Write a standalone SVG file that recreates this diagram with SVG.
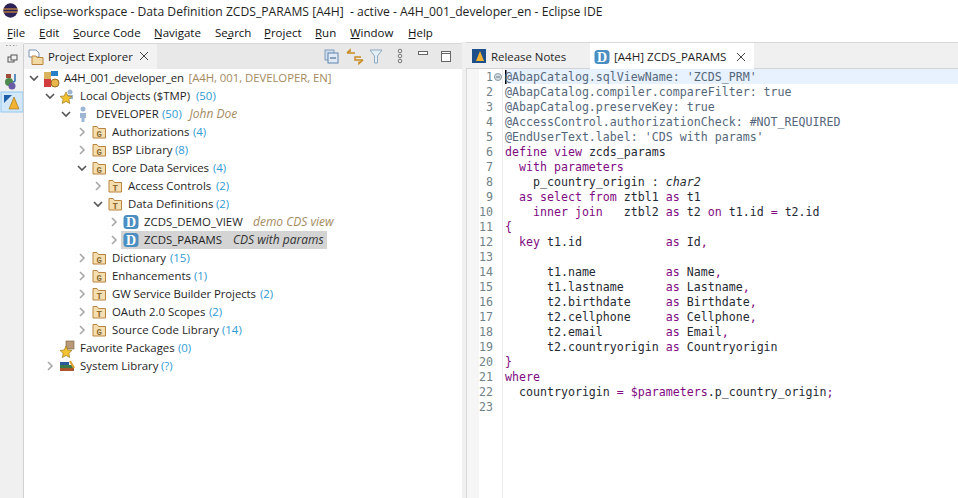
<svg xmlns="http://www.w3.org/2000/svg" width="958" height="498" viewBox="0 0 958 498">
<style>
text{white-space:pre}
.ui{font-family:"Open Sans","Noto Sans","Liberation Sans",sans-serif;font-size:11.4px;fill:#1f1f1f}
.title{font-family:"Open Sans","Noto Sans","Liberation Sans",sans-serif;font-size:12.15px;fill:#1f1f1f}
.menu{font-family:"Open Sans","Noto Sans","Liberation Sans",sans-serif;font-size:11.5px;fill:#111}
.c{fill:#2f9bd3}
.d{fill:#a58a60;font-style:italic;font-size:12px}
.dk{fill:#333;font-style:italic;font-size:12px}
.m{fill:#a58a60}
.code{font-family:"DejaVu Sans Mono","Liberation Mono",monospace;font-size:11.62px;fill:#1f2a33}
.ln{font-family:"DejaVu Sans Mono","Liberation Mono",monospace;font-size:11.62px;fill:#6f8288;text-anchor:end}
.a{fill:#55677a}
.k{fill:#7f0a7f}
.i{font-style:italic}
.chev{fill:none;stroke:#555;stroke-width:1.6}
.chevc{fill:none;stroke:#a8a8a8;stroke-width:1.6}
.fold{fill:#f5deb0;stroke:#b9843f;stroke-width:1}
.fl{font-family:"Liberation Mono",monospace;font-size:9px;font-weight:bold;fill:#8a6a30;text-anchor:middle}
.db{fill:#4a8ec2}
.dl{font-family:"Liberation Serif",serif;font-size:14px;font-weight:bold;fill:#fff;text-anchor:middle}
.ul{stroke:#111;stroke-width:1}
.star{fill:#f2c230;stroke:#9a7a20;stroke-width:.7}
</style>
<defs>
<path id="cd" class="chev" d="M-4,-2 L0,2 L4,-2"/>
<path id="cr" class="chevc" d="M-2,-4 L2,0 L-2,4"/>
<path id="st" class="star" d="M0,-6 L1.800,-2 L6,-1.600 L2.900,1.300 L3.700,5.500 L0,3.400 L-3.700,5.500 L-2.900,1.300 L-6,-1.600 L-1.800,-2Z"/>
<g id="fg"><path class="fold" d="M-6,-5.500 h4 l1.500,2 h7 v9.500 h-12.500 z"/><text class="fl" x="0.300" y="4.500">G</text></g>
<g id="ft"><path class="fold" d="M-6,-5.500 h4 l1.500,2 h7 v9.500 h-12.500 z"/><text class="fl" x="0.300" y="4.500">T</text></g>
<g id="dd"><rect class="db" x="-7.500" y="-7" width="15" height="14" rx="3.500"/><text class="dl" x="0" y="4.800">D</text></g>
</defs>
<rect width="958" height="498" fill="#fff"/>
<g id="titlebar">
<circle cx="10.500" cy="10.500" r="7.200" fill="#2c2255"/><path d="M3.500,9 h14 M3.500,12 h14" stroke="#f2a33a" stroke-width="1.200"/>
<text class="title" x="24" y="16">eclipse-workspace - Data Definition ZCDS_PARAMS [A4H]  - active - A4H_001_developer_en - Eclipse IDE</text>
</g>
<g id="menubar">
<text class="menu" x="7" y="37">File</text><path class="ul" d="M7.500,38.500h5"/>
<text class="menu" x="39" y="37">Edit</text><path class="ul" d="M39.500,38.500h6"/>
<text class="menu" x="73" y="37">Source Code</text><path class="ul" d="M73.500,38.500h6"/>
<text class="menu" x="154" y="37">Navigate</text><path class="ul" d="M154.500,38.500h7"/>
<text class="menu" x="215" y="37">Search</text><path class="ul" d="M227,38.500h5"/>
<text class="menu" x="264" y="37">Project</text><path class="ul" d="M264.500,38.500h6"/>
<text class="menu" x="315" y="37">Run</text><path class="ul" d="M315.500,38.500h6"/>
<text class="menu" x="350" y="37">Window</text><path class="ul" d="M350.500,38.500h9"/>
<text class="menu" x="408" y="37">Help</text><path class="ul" d="M408.500,38.500h7"/>
</g>
<g id="sidebar">
<rect x="0" y="42" width="24" height="456" fill="#f0f0f0"/>
<path d="M6,45.500h11" stroke="#999" stroke-dasharray="1.500 2"/>
<rect x="8" y="57" width="6" height="5" fill="none" stroke="#555"/><rect x="11" y="55" width="6" height="5" fill="#f0f0f0" stroke="#555"/>
<circle cx="9" cy="82" r="4" fill="#4e8a4e"/><circle cx="12" cy="86" r="3.500" fill="#6a5aa8"/><path d="M15,74 v6 q0,2 -2,2" fill="none" stroke="#2a6fb0" stroke-width="1.500"/><rect x="6" y="74" width="5" height="4" fill="#a04a3a"/>
<rect x="1" y="92" width="22" height="20" fill="#d2e7f8" stroke="#90c8f6"/>
<path d="M4,95 h8 l-8,8z" fill="#1d5fa8"/><path d="M14,97 l5,12 h-10z" fill="#f2b233" stroke="#a06a10" stroke-width=".6"/>
</g>
<g id="explorer">
<rect x="24" y="44" width="438" height="454" fill="#fff"/>
<rect x="24" y="44" width="438" height="25" fill="#e8e8e8"/>
<rect x="24" y="44" width="133" height="25" fill="#f2f2f2"/>
<path d="M23.500,44V498" stroke="#d0d0d0"/>
<path d="M24,43.500H462" stroke="#d8d8d8"/>
<path d="M29,50 h7 l3,3 v4 h-10z" fill="#fff" stroke="#7d94b5"/><path d="M32,56 h4 l1,1.500 h6 v7 h-11z" fill="#f3d9a4" stroke="#b9843f"/>
<text class="ui" x="48" y="61">Project Explorer</text>
<path d="M140,52 l8,8 M148,52 l-8,8" stroke="#444" fill="none"/>
<g id="toolbar">
<rect x="325" y="50" width="9" height="10" fill="#cfdcec" stroke="#7f9dbf"/><rect x="328" y="53" width="10" height="10" fill="#dfe9f5" stroke="#5f84ad"/><path d="M330,58h6" stroke="#33557f"/>
<path d="M347,53 h8 M347,53 l3,-3 v2 M363,60 h-8 v-3 l6,0 M363,60 l-4,3.500 v-2" fill="none" stroke="#c98a1f" stroke-width="1.500"/>
<path d="M370,50 h12 l-4.500,6 v7 h-3 v-7z" fill="#e3eef7" stroke="#8fa9c0"/>
<circle cx="400" cy="51" r="1.800" fill="none" stroke="#777"/><circle cx="400" cy="56" r="1.800" fill="none" stroke="#777"/><circle cx="400" cy="61" r="1.800" fill="none" stroke="#777"/>
<rect x="418.500" y="51.500" width="9" height="3" fill="#fff" stroke="#666"/>
<rect x="441.500" y="51.500" width="9" height="10" fill="#fff" stroke="#666"/><path d="M441.500,53.500h9" stroke="#666"/>
</g>
<g id="row-project"><use href="#cd" x="34" y="78"/>
<rect x="44" y="72" width="7" height="7" fill="#d9b45c"/><rect x="51" y="71" width="7" height="5" fill="#2a7fc9"/><rect x="44" y="79" width="7" height="8" fill="#d33c3c"/><circle cx="55" cy="83" r="4" fill="#e8b64a" stroke="#9a6a20"/>
<text class="ui" x="64" y="82" textLength="120">A4H_001_developer_en</text><text class="ui m" x="188.500" y="82" textLength="143">[A4H, 001, DEVELOPER, EN]</text></g>
<g id="row-local"><use href="#cd" x="50" y="96"/>
<circle cx="70" cy="92" r="2.500" fill="#9db6d4"/><path d="M67,95 h6 v4 h-6z" fill="#9db6d4"/><use href="#st" x="66" y="98"/>
<text class="ui" x="80" y="100">Local Objects ($TMP)<tspan class="c" x="196">(50)</tspan></text></g>
<g id="row-developer"><use href="#cd" x="66" y="114"/>
<circle cx="83" cy="109" r="2.500" fill="#9db6d4"/><path d="M80,113 h6 v5 h-1.500 v4 h-3 v-4 h-1.500z" fill="#9db6d4"/>
<text class="ui" x="96" y="118">DEVELOPER<tspan class="c" x="162">(50)</tspan><tspan class="d" x="189.500">John Doe</tspan></text></g>
<g id="row-auth"><use href="#cr" x="82" y="132"/><use href="#fg" x="99" y="132"/><text class="ui" x="112" y="136">Authorizations<tspan class="c" x="193">(4)</tspan></text></g>
<g id="row-bsp"><use href="#cr" x="82" y="150"/><use href="#fg" x="99" y="150"/><text class="ui" x="112" y="154">BSP Library<tspan class="c" x="175">(8)</tspan></text></g>
<g id="row-cds"><use href="#cd" x="82" y="168"/><use href="#fg" x="99" y="168"/><text class="ui" x="112" y="172" textLength="97">Core Data Services</text><text class="ui c" x="213" y="172">(4)</text></g>
<g id="row-access"><use href="#cr" x="98" y="186"/><use href="#ft" x="115" y="186"/><text class="ui" x="128" y="190">Access Controls<tspan class="c" x="216">(2)</tspan></text></g>
<g id="row-defs"><use href="#cd" x="98" y="204"/><use href="#ft" x="115" y="204"/><text class="ui" x="128" y="208">Data Definitions<tspan class="c" x="216">(2)</tspan></text></g>
<g id="row-demo"><use href="#cr" x="114" y="222"/><use href="#dd" x="131" y="222"/><text class="ui" x="144" y="226">ZCDS_DEMO_VIEW<tspan class="d" x="253">demo CDS view</tspan></text></g>
<g id="row-params"><rect x="121" y="231" width="206" height="18" fill="#d4d4d4"/><use href="#cr" x="114" y="240"/><use href="#dd" x="131" y="240"/><text class="ui" x="144" y="244">ZCDS_PARAMS<tspan class="dk" x="233">CDS with params</tspan></text></g>
<g id="row-dict"><use href="#cr" x="82" y="258"/><use href="#fg" x="99" y="258"/><text class="ui" x="112" y="262">Dictionary<tspan class="c" x="170">(15)</tspan></text></g>
<g id="row-enh"><use href="#cr" x="82" y="276"/><use href="#fg" x="99" y="276"/><text class="ui" x="112" y="280">Enhancements<tspan class="c" x="194">(1)</tspan></text></g>
<g id="row-gw"><use href="#cr" x="82" y="294"/><use href="#ft" x="99" y="294"/><text class="ui" x="112" y="298" textLength="144">GW Service Builder Projects</text><text class="ui c" x="260" y="298">(2)</text></g>
<g id="row-oauth"><use href="#cr" x="82" y="312"/><use href="#ft" x="99" y="312"/><text class="ui" x="112" y="316">OAuth 2.0 Scopes<tspan class="c" x="209">(2)</tspan></text></g>
<g id="row-src"><use href="#cr" x="82" y="330"/><use href="#fg" x="99" y="330"/><text class="ui" x="112" y="334">Source Code Library<tspan class="c" x="222">(14)</tspan></text></g>
<g id="row-fav"><rect x="66" y="341" width="8" height="8" fill="#b89a7a" stroke="#7a5a3a" stroke-width=".6"/><use href="#st" x="66" y="352"/><text class="ui" x="80" y="352">Favorite Packages<tspan class="c" x="178">(0)</tspan></text></g>
<g id="row-sys"><use href="#cr" x="50" y="366"/><rect x="60" y="368" width="14" height="3" fill="#a8552a"/><rect x="60" y="365" width="13" height="3" fill="#3a7a4a"/><rect x="60" y="362" width="9" height="3" fill="#2a5a9a"/><path d="M70,361 l4,7" stroke="#d9a030" stroke-width="2"/><text class="ui" x="80" y="370">System Library<tspan class="c" x="161">(?)</tspan></text></g>
</g>
<rect x="462" y="42" width="4" height="456" fill="#f0f0f0"/>
<g id="editor">
<rect x="466" y="43" width="492" height="26" fill="#f0f0f0"/>
<path d="M466,42.500H958" stroke="#d8d8d8"/><path d="M466,68.500H958" stroke="#d4d4d4"/>
<rect x="590" y="43" width="164" height="26" fill="#fff"/>
<rect x="472" y="49" width="14" height="14" fill="#1d4f8a"/><path d="M480,51 l4,10 h-8z" fill="#f2b233"/>
<text class="ui" x="491" y="61">Release Notes</text>
<use href="#dd" x="602" y="57"/>
<text class="ui" x="614" y="61" style="font-size:11.6px">[A4H] ZCDS_PARAMS</text>
<path d="M737,53 l8,8 M745,53 l-8,8" stroke="#444" fill="none"/>
<rect x="466" y="69" width="1" height="429" fill="#d8d8d8"/>
<rect x="467" y="69" width="12" height="429" fill="#f6f6f6"/>
<path d="M502.500,69V498" stroke="#ececec"/>
<rect x="505" y="69" width="453" height="15" fill="#e8f2fe"/>
<circle cx="498" cy="77" r="3.500" fill="#d5dde3" stroke="#8a9aa6"/><path d="M496,77h4" stroke="#6a7a86"/>
<rect x="505" y="70" width="1.500" height="14" fill="#000"/>
<g id="linenos">
<text class="ln" x="493" y="81">1</text><text class="ln" x="493" y="96">2</text><text class="ln" x="493" y="111">3</text><text class="ln" x="493" y="126">4</text><text class="ln" x="493" y="141">5</text><text class="ln" x="493" y="156">6</text><text class="ln" x="493" y="171">7</text><text class="ln" x="493" y="186">8</text><text class="ln" x="493" y="201">9</text><text class="ln" x="493" y="216">10</text><text class="ln" x="493" y="231">11</text><text class="ln" x="493" y="246">12</text><text class="ln" x="493" y="261">13</text><text class="ln" x="493" y="276">14</text><text class="ln" x="493" y="291">15</text><text class="ln" x="493" y="306">16</text><text class="ln" x="493" y="321">17</text><text class="ln" x="493" y="336">18</text><text class="ln" x="493" y="351">19</text><text class="ln" x="493" y="366">20</text><text class="ln" x="493" y="381">21</text><text class="ln" x="493" y="396">22</text><text class="ln" x="493" y="411">23</text>
</g>
<g id="source">
<text class="code a" x="505" y="81">@AbapCatalog.sqlViewName: 'ZCDS_PRM'</text>
<text class="code a" x="505" y="96">@AbapCatalog.compiler.compareFilter: true</text>
<text class="code a" x="505" y="111">@AbapCatalog.preserveKey: true</text>
<text class="code a" x="505" y="126">@AccessControl.authorizationCheck: #NOT_REQUIRED</text>
<text class="code a" x="505" y="141">@EndUserText.label: 'CDS with params'</text>
<text class="code" x="505" y="156"><tspan class="k">define view</tspan> zcds_params</text>
<text class="code k" x="505" y="171">  with parameters</text>
<text class="code" x="505" y="186">    p_country_origin : <tspan class="i">char2</tspan></text>
<text class="code" x="505" y="201"><tspan class="k">  as select from</tspan> ztbl1 <tspan class="k">as</tspan> t1</text>
<text class="code" x="505" y="216"><tspan class="k">    inner join</tspan>   ztbl2 <tspan class="k">as</tspan> t2 <tspan class="k">on</tspan> t1.id <tspan class="k">=</tspan> t2.id</text>
<text class="code k" x="505" y="231">{</text>
<text class="code" x="505" y="246"><tspan class="k">  key</tspan> t1.id            <tspan class="k">as</tspan> Id<tspan class="k">,</tspan></text>
<text class="code" x="505" y="276">      t1.name          <tspan class="k">as</tspan> Name<tspan class="k">,</tspan></text>
<text class="code" x="505" y="291">      t1.lastname      <tspan class="k">as</tspan> Lastname<tspan class="k">,</tspan></text>
<text class="code" x="505" y="306">      t2.birthdate     <tspan class="k">as</tspan> Birthdate<tspan class="k">,</tspan></text>
<text class="code" x="505" y="321">      t2.cellphone     <tspan class="k">as</tspan> Cellphone<tspan class="k">,</tspan></text>
<text class="code" x="505" y="336">      t2.email         <tspan class="k">as</tspan> Email<tspan class="k">,</tspan></text>
<text class="code" x="505" y="351">      t2.countryorigin <tspan class="k">as</tspan> Countryorigin</text>
<text class="code k" x="505" y="366">}</text>
<text class="code k" x="505" y="381">where</text>
<text class="code" x="505" y="396">  countryorigin <tspan class="k">= $parameters</tspan>.p_country_origin<tspan class="k">;</tspan></text>
</g>
</g>
</svg>
